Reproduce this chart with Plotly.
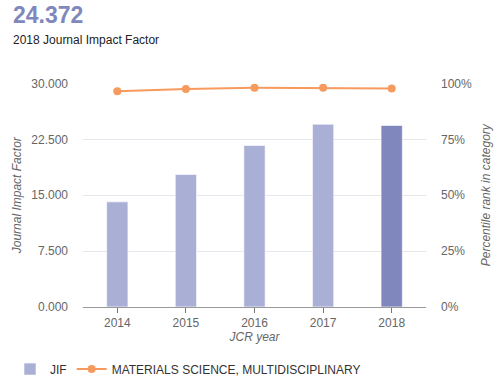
import plotly.graph_objects as go

years = ["2014", "2015", "2016", "2017", "2018"]
jif = [14.107, 17.793, 21.695, 24.537, 24.372]
percentile = [96.6, 97.6, 98.1, 98.1, 97.8]
bar_colors = ["#aaafd6", "#aaafd6", "#aaafd6", "#aaafd6", "#7f87bd"]
left_ticks = [0, 7.5, 15, 22.5, 30]
right_ticks = [0, 25, 50, 75, 100]
right_labels = ["0%", "25%", "50%", "75%", "100%"]

FONT = "Liberation Sans, Arial, sans-serif"
GRAY = "#666666"
W, H = 500, 384
X0, X1, YT, YB = 83, 426, 84, 308.5

fig = go.Figure()
fig.add_trace(go.Bar(
    x=years, y=jif, name="JIF",
    marker=dict(color=bar_colors, line=dict(color="rgba(255,255,255,0.6)", width=1)),
    width=0.31, yaxis="y",
))
fig.add_trace(go.Scatter(
    x=years, y=percentile, name="MATERIALS SCIENCE, MULTIDISCIPLINARY",
    mode="lines+markers", yaxis="y2",
    line=dict(color="#f79a5e", width=2),
    marker=dict(color="#f79a5e", size=8),
))

fig.update_layout(
    width=W, height=H,
    margin=dict(l=0, r=0, t=0, b=0),
    paper_bgcolor="white", plot_bgcolor="white",
    font=dict(family=FONT, size=12, color=GRAY),
    xaxis=dict(
        domain=[X0 / W, X1 / W], automargin=False,
        showline=True, linecolor="#999999", linewidth=1,
        ticks="outside", ticklen=5, tickcolor="#777777",
        tickfont=dict(size=12, color=GRAY),
        title=dict(text="<i>JCR year</i>", font=dict(size=12, color=GRAY), standoff=0),
        showgrid=False,
    ),
    yaxis=dict(
        domain=[1 - YB / H, 1 - YT / H], automargin=False,
        range=[0, 30], tickvals=left_ticks, tickformat=".3f",
        gridcolor="#e6e6ee", gridwidth=1, zeroline=False,
        tickfont=dict(size=12, color=GRAY), ticks="", ticklabelstandoff=14,
        title=dict(text="<i>Journal Impact Factor</i>", font=dict(size=12, color=GRAY), standoff=7),
    ),
    yaxis2=dict(
        range=[0, 100], tickvals=right_ticks, ticktext=right_labels,
        overlaying="y", side="right", showgrid=False, zeroline=False, automargin=False,
        anchor="x",
        tickfont=dict(size=12, color=GRAY), ticklabelstandoff=14,
        title=dict(text="<i>Percentile rank in category</i>", font=dict(size=12, color=GRAY), standoff=10),
    ),
    showlegend=True,
    legend=dict(
        orientation="h", x=10 / W, y=1 - 371 / H, xanchor="left", yanchor="middle",
        font=dict(size=12, color="#333333"), itemwidth=30,
    ),
    annotations=[
        dict(text="<b>24.372</b>", xref="paper", yref="paper", x=11 / W, y=1 - 15 / H,
             xanchor="left", yanchor="middle", showarrow=False,
             font=dict(size=23, color="#7f87bd", family=FONT)),
        dict(text="2018 Journal Impact Factor", xref="paper", yref="paper", x=11 / W, y=1 - 40 / H,
             xanchor="left", yanchor="middle", showarrow=False,
             font=dict(size=12, color="#222222", family=FONT)),
    ],
)

fig.write_html("out.html", config={"displayModeBar": False},
               post_script="document.body.style.margin='0px';")
